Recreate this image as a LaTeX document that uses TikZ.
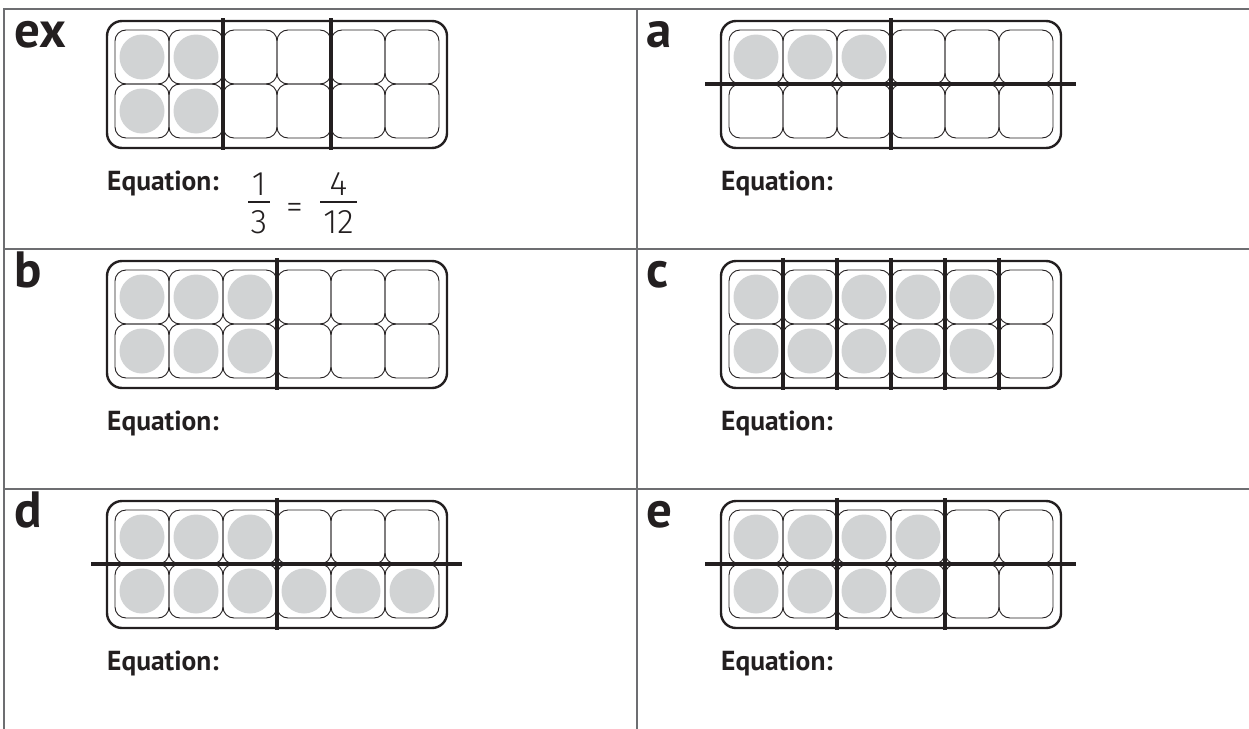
\documentclass[tikz,border=0pt]{standalone}
\usepackage{fontspec}
\setmainfont{PT Sans}
\newfontfamily\thinfont{Fira Sans Light}
\definecolor{ink}{HTML}{231F20}
\definecolor{dotgray}{HTML}{D1D3D4}
\definecolor{rulegray}{HTML}{6D6E71}
\tikzset{
  tablerule/.style={draw=rulegray, line width=2pt},
  frameline/.style={draw=ink, line width=2.4pt, rounded corners=15pt},
  cellline/.style={draw=ink, line width=0.9pt, rounded corners=11pt},
  dot/.style={fill=dotgray},
  divline/.style={draw=ink, line width=4.6pt},
  lbl/.style={text=ink, font=\bfseries\fontsize{51}{56}\selectfont, inner sep=0pt, anchor=base west},
  eqlbl/.style={text=ink, font=\bfseries\fontsize{27.5}{30}\selectfont, inner sep=0pt, anchor=base west},
  digit/.style={text=ink, font=\thinfont\fontsize{34}{36}\selectfont, inner sep=0pt, anchor=base},
  fracbar/.style={draw=ink, line width=1.3pt}
}
% #1 x0, #2 y0, #3 filled in top row, #4 filled in bottom row
\newcommand\tenframe[4]{%
  \begin{scope}[shift={(#1,#2)}]
    \foreach \i in {0,...,5} {
      \foreach \j in {0,1} {
        \path[cellline] (8+54*\i, 9+54*\j) rectangle ++(54,54);
      }
      \ifnum\i<#3 \fill[dot] (35+54*\i, 36) circle[radius=22.5pt];\fi
      \ifnum\i<#4 \fill[dot] (35+54*\i, 90) circle[radius=22.5pt];\fi
    }
    \path[frameline] (0,0) rectangle (340,127);
  \end{scope}}
\newcommand\vdiv[3]{% x0, y0, boundary index
  \draw[divline] (#1+8+54*#3, #2-3) -- (#1+8+54*#3, #2+129);}
\newcommand\hdiv[2]{% x0, y0
  \draw[divline] (#1-16, #2+63) -- (#1+355, #2+63);}
\begin{document}
\begin{tikzpicture}[x=1pt, y=-1pt]
\useasboundingbox (0,0) rectangle (1249,728);
% table
\draw[tablerule] (1249,9) -- (4,9) -- (4,730);
\draw[tablerule] (637,9) -- (637,730);
\draw[tablerule] (4,249) -- (1249,249);
\draw[tablerule] (4,489) -- (1249,489);

% ex
\tenframe{107}{21}{2}{2}
\vdiv{107}{21}{2}
\vdiv{107}{21}{4}
\node[lbl] (lex) at (14,47) {ex};
\node[eqlbl] (eqex) at (107,190) {Equation:};
\node[digit] (n1) at (259,195) {1};
\node[digit] (d1) at (259,233) {3};
\draw[fracbar] (248,202) -- (270,202);
\node[digit, anchor=center] (eqsign) at (294.5,210.5) {=};
\node[digit] (n2) at (338.5,195) {4};
\node[digit] (d2) at (338.5,233) {12};
\draw[fracbar] (320,202) -- (357,202);

% a
\tenframe{721}{21}{3}{0}
\hdiv{721}{21}
\vdiv{721}{21}{3}
\node[lbl] (la) at (646,47) {a};
\node[eqlbl] (eqa) at (721,190) {Equation:};

% b
\tenframe{107}{261}{3}{3}
\vdiv{107}{261}{3}
\node[lbl] (lb) at (14,287) {b};
\node[eqlbl] (eqb) at (107,430) {Equation:};

% c
\tenframe{721}{261}{5}{5}
\foreach \k in {1,...,5} {\vdiv{721}{261}{\k}}
\node[lbl] (lc) at (646,287) {c};
\node[eqlbl] (eqc) at (721,430) {Equation:};

% d
\tenframe{107}{501}{3}{6}
\hdiv{107}{501}
\vdiv{107}{501}{3}
\node[lbl] (ld) at (14,527) {d};
\node[eqlbl] (eqd) at (107,670) {Equation:};

% e
\tenframe{721}{501}{4}{4}
\hdiv{721}{501}
\vdiv{721}{501}{2}
\vdiv{721}{501}{4}
\node[lbl] (le) at (646,527) {e};
\node[eqlbl] (eqe) at (721,670) {Equation:};
\end{tikzpicture}
\end{document}
